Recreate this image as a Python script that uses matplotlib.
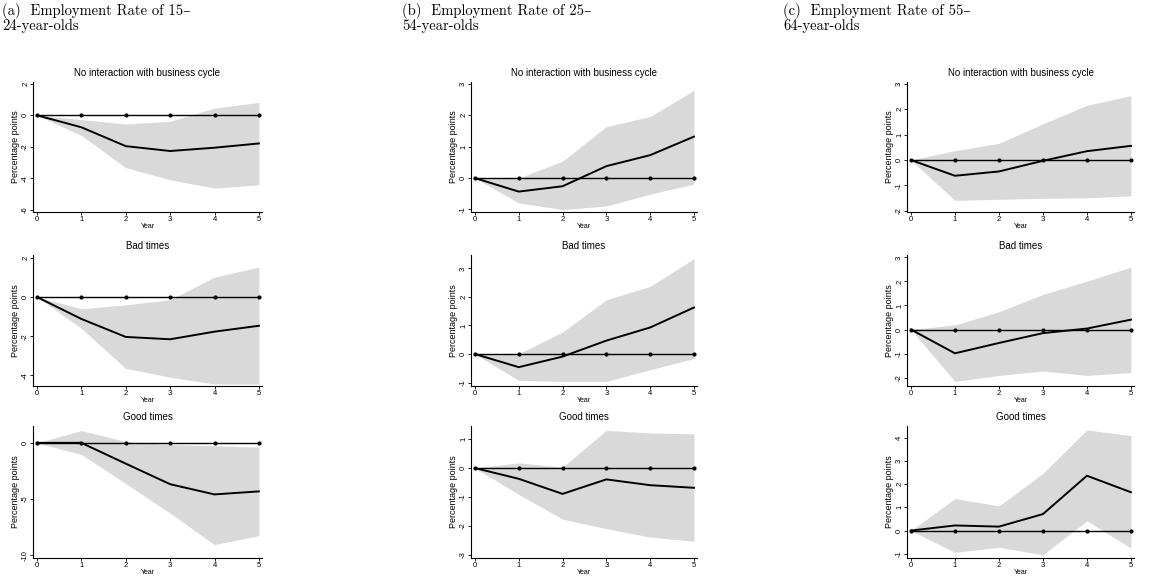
import matplotlib.pyplot as plt

# years after the shock
years = [0, 1, 2, 3, 4, 5]

col_titles = ["(a)  Employment Rate of 15–\n24-year-olds",
              "(b)  Employment Rate of 25–\n54-year-olds",
              "(c)  Employment Rate of 55–\n64-year-olds"]
row_titles = ["No interaction with business cycle", "Bad times", "Good times"]

# 15-24 year olds
a_none_est = [0, -0.76, -1.96, -2.27, -2.06, -1.79]
a_none_lo = [0, -1.28, -3.33, -4.10, -4.63, -4.42]
a_none_hi = [0, -0.27, -0.55, -0.38, 0.46, 0.82]
a_bad_est = [0, -1.12, -2.04, -2.16, -1.77, -1.47]
a_bad_lo = [0, -1.60, -3.65, -4.10, -4.45, -4.45]
a_bad_hi = [0, -0.60, -0.40, -0.14, 1.02, 1.53]
a_good_est = [0, 0.0, -1.85, -3.68, -4.59, -4.32]
a_good_lo = [0, -1.03, -3.62, -6.26, -9.06, -8.26]
a_good_hi = [0, 1.09, 0.12, -0.15, -0.26, -0.38]

# 25-54 year olds
b_none_est = [0, -0.43, -0.26, 0.38, 0.73, 1.32]
b_none_lo = [0, -0.79, -1.00, -0.89, -0.51, -0.19]
b_none_hi = [0, 0.0, 0.54, 1.64, 1.96, 2.79]
b_bad_est = [0, -0.46, -0.09, 0.47, 0.93, 1.63]
b_bad_lo = [0, -0.92, -0.96, -0.96, -0.55, -0.16]
b_bad_hi = [0, 0.01, 0.77, 1.90, 2.37, 3.34]
b_good_est = [0, -0.37, -0.89, -0.39, -0.59, -0.68]
b_good_lo = [0, -0.91, -1.76, -2.09, -2.38, -2.52]
b_good_hi = [0, 0.18, 0.03, 1.30, 1.21, 1.18]

# 55-64 year olds
c_none_est = [0, -0.62, -0.45, -0.03, 0.35, 0.56]
c_none_lo = [0, -1.59, -1.55, -1.51, -1.49, -1.41]
c_none_hi = [0, 0.37, 0.66, 1.43, 2.16, 2.54]
c_bad_est = [0, -0.99, -0.56, -0.15, 0.04, 0.41]
c_bad_lo = [0, -2.16, -1.91, -1.73, -1.91, -1.79]
c_bad_hi = [0, 0.19, 0.74, 1.46, 2.01, 2.60]
c_good_est = [0, 0.22, 0.17, 0.71, 2.36, 1.65]
c_good_lo = [0, -0.94, -0.72, -1.04, 0.42, -0.75]
c_good_hi = [0, 1.38, 1.06, 2.46, 4.33, 4.09]

# y ticks and y ranges for every panel
yticks = [[[-6, -4, -2, 0, 2], [-4, -2, 0, 2], [-10, -5, 0]],
          [[-1, 0, 1, 2, 3], [-1, 0, 1, 2, 3], [-3, -2, -1, 0, 1]],
          [[-2, -1, 0, 1, 2, 3], [-2, -1, 0, 1, 2, 3], [-1, 0, 1, 2, 3, 4]]]
ylims = [[(-6.15, 2.12), (-4.55, 2.15), (-10.25, 1.5)],
         [(-1.08, 3.06), (-1.12, 3.47), (-3.1, 1.45)],
         [(-2.05, 3.08), (-2.35, 3.1), (-1.18, 4.5)]]

panels = [[(a_none_est, a_none_lo, a_none_hi), (a_bad_est, a_bad_lo, a_bad_hi), (a_good_est, a_good_lo, a_good_hi)],
          [(b_none_est, b_none_lo, b_none_hi), (b_bad_est, b_bad_lo, b_bad_hi), (b_good_est, b_good_lo, b_good_hi)],
          [(c_none_est, c_none_lo, c_none_hi), (c_bad_est, c_bad_lo, c_bad_hi), (c_good_est, c_good_lo, c_good_hi)]]

W, H = 1150, 576
fig = plt.figure(figsize=(11.5, 5.76), dpi=100)

# axes boxes in pixels (left, width) per column and (top, height) per row
col_box = [(33, 229), (471, 226), (907, 227)]
row_box = [(82, 130), (255, 131), (426, 132)]
title_x = [2, 402, 783]
ylab_x = [16, 454, 890]

sans = ["Liberation Sans", "DejaVu Sans"]

for c in range(3):
    fig.text(title_x[c] / W, 1 - 3 / H, col_titles[c], ha="left", va="top",
             fontsize=10.5, family=["cmr10", "DejaVu Serif"], linespacing=0.95)
    for r in range(3):
        left, width = col_box[c]
        top, height = row_box[r]
        ax = fig.add_axes([left / W, 1 - (top + height) / H, width / W, height / H])
        est, lo, hi = panels[c][r]

        ax.fill_between(years, lo, hi, color="#d9d9d9", lw=0)
        ax.plot(years, [0] * len(years), color="black", lw=1.0, marker="o", ms=2)
        ax.plot(years, est, color="black", lw=1.4)

        ax.set_xlim(-0.09, 5.07)
        ax.set_ylim(*ylims[c][r])
        ax.set_xticks(years)
        ax.set_yticks(yticks[c][r])
        ax.set_yticklabels([str(t) for t in yticks[c][r]], rotation=90, va="center")
        for lab in ax.get_xticklabels() + ax.get_yticklabels():
            lab.set_family(sans)
            lab.set_fontsize(5.5)
        ax.tick_params(length=2, width=0.6, pad=0.8)

        ax.spines["top"].set_visible(False)
        ax.spines["right"].set_visible(False)
        ax.spines["left"].set_linewidth(0.8)
        ax.spines["bottom"].set_linewidth(0.8)

        ax.set_title(row_titles[r], fontsize=7, family=sans, pad=4)
        ax.set_xlabel("Year", fontsize=5, family=sans, labelpad=0)
        fig.text(ylab_x[c] / W, 1 - (top + height / 2) / H, "Percentage points",
                 rotation=90, ha="center", va="center", fontsize=6.5, family=sans)

plt.savefig("out.png", dpi=100)
